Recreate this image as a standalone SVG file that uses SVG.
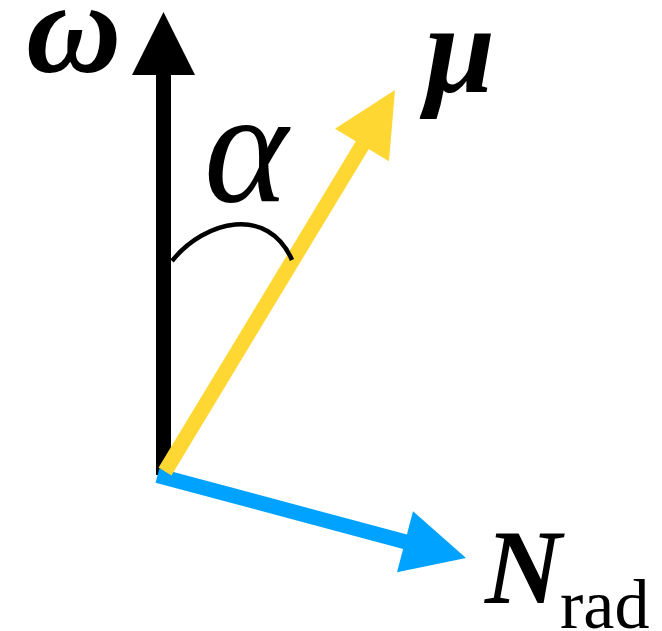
<svg xmlns="http://www.w3.org/2000/svg" width="662" height="631" viewBox="0 0 662 631">
<style>
.lbl{font-family:"Liberation Serif","Times New Roman",serif;fill:#000}
.bi{font-weight:bold;font-style:italic}
.it{font-style:italic}
</style>
<rect width="662" height="631" fill="#fff"/>
<g id="connectors">
  <g id="omega-arrow">
    <line x1="163.5" y1="475" x2="163.5" y2="74" stroke="#000" stroke-width="15"/>
    <polygon points="163.5,12 132,75 195,75" fill="#000"/>
  </g>
  <g id="nrad-arrow">
    <line x1="157.5" y1="475.5" x2="406" y2="542" stroke="#00A2FF" stroke-width="15"/>
    <polygon points="466,558 413,511.3 397,572.3" fill="#00A2FF"/>
  </g>
  <g id="mu-arrow">
    <line x1="165" y1="471.5" x2="363" y2="144" stroke="#FFD732" stroke-width="15"/>
    <polygon points="395,90 335,128.7 389,161.3" fill="#FFD732"/>
  </g>
  <path id="alpha-arc" d="M172,261 C205,220 268,205 292,260" fill="none" stroke="#000" stroke-width="4.5"/>
</g>
<g id="omega-label"><text class="lbl bi" x="26" y="72" font-size="132">ω</text></g>
<g id="alpha-label"><text class="lbl it" x="204" y="201" font-size="160">α</text></g>
<g id="mu-label"><text class="lbl bi" x="425" y="92" font-size="126">μ</text></g>
<g id="nrad-label"><text class="lbl" y="603"><tspan class="bi" x="485" font-size="106">N</tspan><tspan x="560" y="628" font-size="70">rad</tspan></text></g>
</svg>
